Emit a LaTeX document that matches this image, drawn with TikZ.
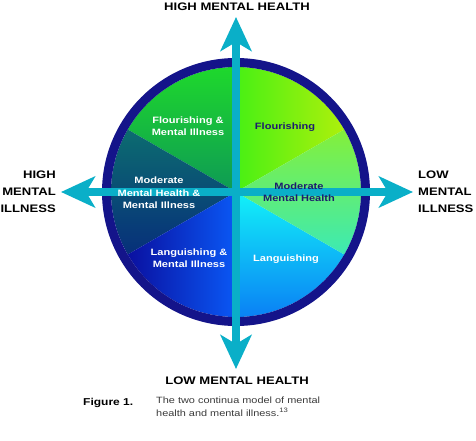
\documentclass[tikz,border=0pt]{standalone}
\usepackage{fontspec}
\setmainfont{Liberation Sans}[FakeStretch=1.2]
\usepackage{tikz}
\usetikzlibrary{arrows.meta, positioning}
\definecolor{axiscyan}{HTML}{0AAFC8}
\definecolor{rimnavy}{HTML}{14148A}
\definecolor{labelnavy}{HTML}{1C1C6E}
\definecolor{captiongray}{HTML}{3A3A3A}
% wedge colours
\definecolor{flogreen}{HTML}{1ED82C}
\definecolor{flogreendk}{HTML}{0E9A55}
\definecolor{modteal}{HTML}{0C6C70}
\definecolor{modtealdk}{HTML}{072F7A}
\definecolor{langblue}{HTML}{0A10A0}
\definecolor{langbluelt}{HTML}{0A58F5}
\definecolor{langcyan}{HTML}{12F2F8}
\definecolor{langcyandk}{HTML}{0A80F5}
\definecolor{modlime}{HTML}{84F03A}
\definecolor{modmint}{HTML}{3CEAB4}
\definecolor{flolime}{HTML}{48F014}
\definecolor{floyellow}{HTML}{AEF00C}
\tikzset{
  % Axis end labels
  axislabel/.style={font=\fontsize{10.9}{16.8}\selectfont\bfseries, text=black, inner sep=0pt},
  % Labels inside the wedges
  quadlabel/.style={font=\fontsize{9.2}{12.4}\selectfont\bfseries, align=center,
    inner sep=0pt, text=#1},
  quadlabel/.default=white,
  % Axes
  axisarrow/.style={{Stealth[length=34pt, width=31pt, inset=9pt]}-{Stealth[length=34pt, width=31pt, inset=9pt]},
    line width=8pt, draw=axiscyan},
}
\newcommand\quadwedge[3]{\shade[#3] (0,0) -- (#1:125) arc[start angle=#1, end angle=#2, radius=125] -- cycle;}

\begin{document}
\begin{tikzpicture}[x=1pt, y=1pt]
  \useasboundingbox (-236,-249) rectangle (240,192);

  % Wedges
  \quadwedge{30}{90}{left color=flolime, right color=floyellow}
  \quadwedge{90}{150}{top color=flogreen, bottom color=flogreendk}
  \quadwedge{150}{210}{top color=modteal, bottom color=modtealdk}
  \quadwedge{210}{270}{left color=langblue, right color=langbluelt}
  \quadwedge{270}{330}{top color=langcyan, bottom color=langcyandk}
  \quadwedge{-30}{30}{top color=modlime, bottom color=modmint}

  % Rim
  \draw[rimnavy, line width=9pt] (0,0) circle[radius=129.5];

  % Axis labels
  \node[axislabel] (hmh) at (1,185) {HIGH MENTAL HEALTH};
  \node[axislabel] (lmh) at (1,-189) {LOW MENTAL HEALTH};
  \node[axislabel, align=right, anchor=east] (hmi) at (-180,0) {HIGH\\MENTAL\\ILLNESS};
  \node[axislabel, align=left, anchor=west] (lmi) at (182,0) {LOW\\MENTAL\\ILLNESS};

  % Arrow tips
  \coordinate (ntip) at (0,175);
  \coordinate (stip) at (0,-177);
  \coordinate (wtip) at (-175,0);
  \coordinate (etip) at (177,0);

  \draw[axisarrow] (wtip) -- (etip);
  \draw[axisarrow] (ntip) -- (stip);

  % Wedge labels (on top of the axes)
  \node[quadlabel] (flomi) at (-48,66) {Flourishing \&\\Mental Illness};
  \node[quadlabel=labelnavy] (flo) at (49,65) {Flourishing};
  \node[quadlabel] (modmi) at (-77,-1) {Moderate\\Mental Health \&\\Mental Illness};
  \node[quadlabel=labelnavy] (mod) at (63,0) {Moderate\\Mental Health};
  \node[quadlabel] (langmi) at (-47,-66) {Languishing \&\\Mental Illness};
  \node[quadlabel] (lang) at (50,-67) {Languishing};

  % Caption
  \node[anchor=west, inner sep=0pt, font=\fontsize{10}{13}\selectfont\bfseries] (figno) at (-153,-211) {Figure 1.};
  \node[anchor=north west, inner sep=0pt, align=left, text=captiongray,
        font=\fontsize{9.1}{13}\selectfont] (caption) at (-80,-205)
        {The two continua model of mental\\health and mental illness.\textsuperscript{13}};

\end{tikzpicture}
\end{document}
